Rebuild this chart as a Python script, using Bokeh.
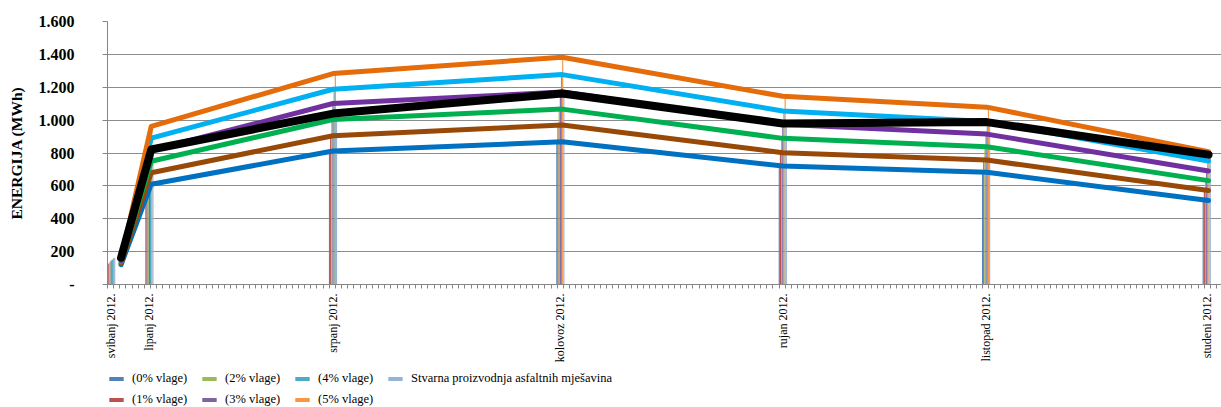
from math import pi
from bokeh.plotting import figure
from bokeh.layouts import column
from bokeh.models import Range1d, FixedTicker, Legend, LegendItem
from bokeh.embed import file_html
from bokeh.resources import INLINE

# ---- data -------------------------------------------------------------
months = ["svibanj 2012.", "lipanj 2012.", "srpanj 2012.", "kolovoz 2012.",
          "rujan 2012.", "listopad 2012.", "studeni 2012."]
bar_days = [0.6, 6.8, 36.6, 73.5, 109.6, 142.6, 178.4]     # day position of each month's column group
line_days = [2.2, 7.1, 36.6, 73.8, 109.6, 142.7, 178.7]    # day position of the line points

series_names = ["(0% vlage)", "(1% vlage)", "(2% vlage)", "(3% vlage)",
                "(4% vlage)", "(5% vlage)", "Stvarna proizvodnja asfaltnih mješavina"]
vlaga_0 = [120, 610, 812, 868, 721, 683, 511]
vlaga_1 = [128, 680, 905, 970, 802, 757, 572]
vlaga_2 = [138, 750, 1004, 1067, 889, 838, 632]
vlaga_3 = [146, 815, 1101, 1171, 975, 915, 691]
vlaga_4 = [152, 890, 1188, 1277, 1056, 992, 751]
vlaga_5 = [160, 962, 1283, 1383, 1145, 1079, 808]
stvarna = [163, 821, 1040, 1162, 980, 988, 790]

y_ticks = [0, 200, 400, 600, 800, 1000, 1200, 1400, 1600]
y_tick_labels = ["-", "200", "400", "600", "800", "1.000", "1.200", "1.400", "1.600"]

all_series = [vlaga_0, vlaga_1, vlaga_2, vlaga_3, vlaga_4, vlaga_5, stvarna]
bar_colors = ["#4F81BD", "#C0504D", "#9BBB59", "#8064A2", "#4BACC6", "#F79646", "#95B3D7"]
line_colors = ["#0070C0", "#984807", "#00B050", "#7030A0", "#00B0F0", "#E46C0A", "#000000"]
line_widths = [5, 5, 5, 5, 5, 5, 8]

SERIF = "Liberation Serif"

# ---- main figure --------------------------------------------------------
p = figure(width=1221, height=365, output_backend="svg", toolbar_location=None,
           x_range=Range1d(0, 180.8), y_range=Range1d(0, 1600),
           min_border_left=107, min_border_top=21, min_border_bottom=80,
           min_border_right=0)
p.outline_line_color = None
p.background_fill_color = "white"
p.border_fill_color = "white"

# columns (thin clustered bars)
bw = 0.19
bar_renderers = []
for i, (vals, col) in enumerate(zip(all_series, bar_colors)):
    xs = [d + (i - 3) * bw for d in bar_days]
    r = p.vbar(x=xs, top=vals, width=bw, bottom=0, fill_color=col, line_color=None)
    bar_renderers.append(r)

# lines
for vals, col, lw in zip(all_series, line_colors, line_widths):
    p.line(x=line_days, y=vals, line_color=col, line_width=lw,
           line_join="round", line_cap="round")

# ---- axes ------------------------------------------------------------
p.xgrid.grid_line_color = None
p.ygrid.grid_line_color = "#8C8C8C"
p.ygrid.grid_line_width = 1

yax = p.yaxis[0]
yax.ticker = FixedTicker(ticks=y_ticks)
yax.major_label_overrides = {t: s for t, s in zip(y_ticks, y_tick_labels)}
yax.major_label_text_font = SERIF
yax.major_label_text_font_style = "bold"
yax.major_label_text_font_size = "16px"
yax.major_label_text_color = "black"
yax.major_label_standoff = 28
yax.major_tick_out = 5
yax.major_tick_in = 0
yax.minor_tick_out = 0
yax.minor_tick_in = 0
yax.major_tick_line_color = "#868686"
yax.axis_line_color = "#868686"
yax.axis_label = "ENERGIJA (MWh)"
yax.axis_label_text_font = SERIF
yax.axis_label_text_font_style = "bold"
yax.axis_label_text_font_size = "15.5px"
yax.axis_label_text_color = "black"
yax.axis_label_standoff = 11

xax = p.xaxis[0]
xax.ticker = FixedTicker(ticks=bar_days, minor_ticks=list(range(0, 181)))
xax.major_label_overrides = {t: s for t, s in zip(bar_days, months)}
xax.major_label_orientation = pi / 2
xax.major_label_text_font = SERIF
xax.major_label_text_font_size = "12px"
xax.major_label_text_color = "black"
xax.major_label_standoff = 5
xax.major_tick_out = 0
xax.major_tick_in = 0
xax.minor_tick_out = 4
xax.minor_tick_in = 0
xax.minor_tick_line_color = "#868686"
xax.axis_line_color = "#868686"

# ---- legend strip ------------------------------------------------------
lg = figure(width=1221, height=42, output_backend="svg", toolbar_location=None,
            x_axis_location=None, y_axis_location=None,
            min_border_left=0, min_border_right=0, min_border_top=0, min_border_bottom=0)
lg.outline_line_color = None
lg.xgrid.grid_line_color = None
lg.ygrid.grid_line_color = None
# zero-size stand-ins that only carry the legend swatch colours
legend_renderers = [lg.vbar(x=[0], top=[0], bottom=0, width=0, fill_color=c, line_color=None)
                    for c in bar_colors]
items = [LegendItem(label=n, renderers=[r]) for n, r in zip(series_names, legend_renderers)]
legend = Legend(items=items, orientation="vertical", nrows=2,
                location=(0, 0),
                label_text_font=SERIF, label_text_font_size="12.5px",
                label_text_color="black",
                glyph_width=18, glyph_height=5, label_standoff=7,
                label_width=62, label_height=14, spacing=6,
                padding=0, margin=0,
                background_fill_alpha=0, border_line_color=None)
lg.add_layout(legend, "center")

layout = column(p, lg, spacing=0)
open("out.html", "w").write(file_html(layout, INLINE))
